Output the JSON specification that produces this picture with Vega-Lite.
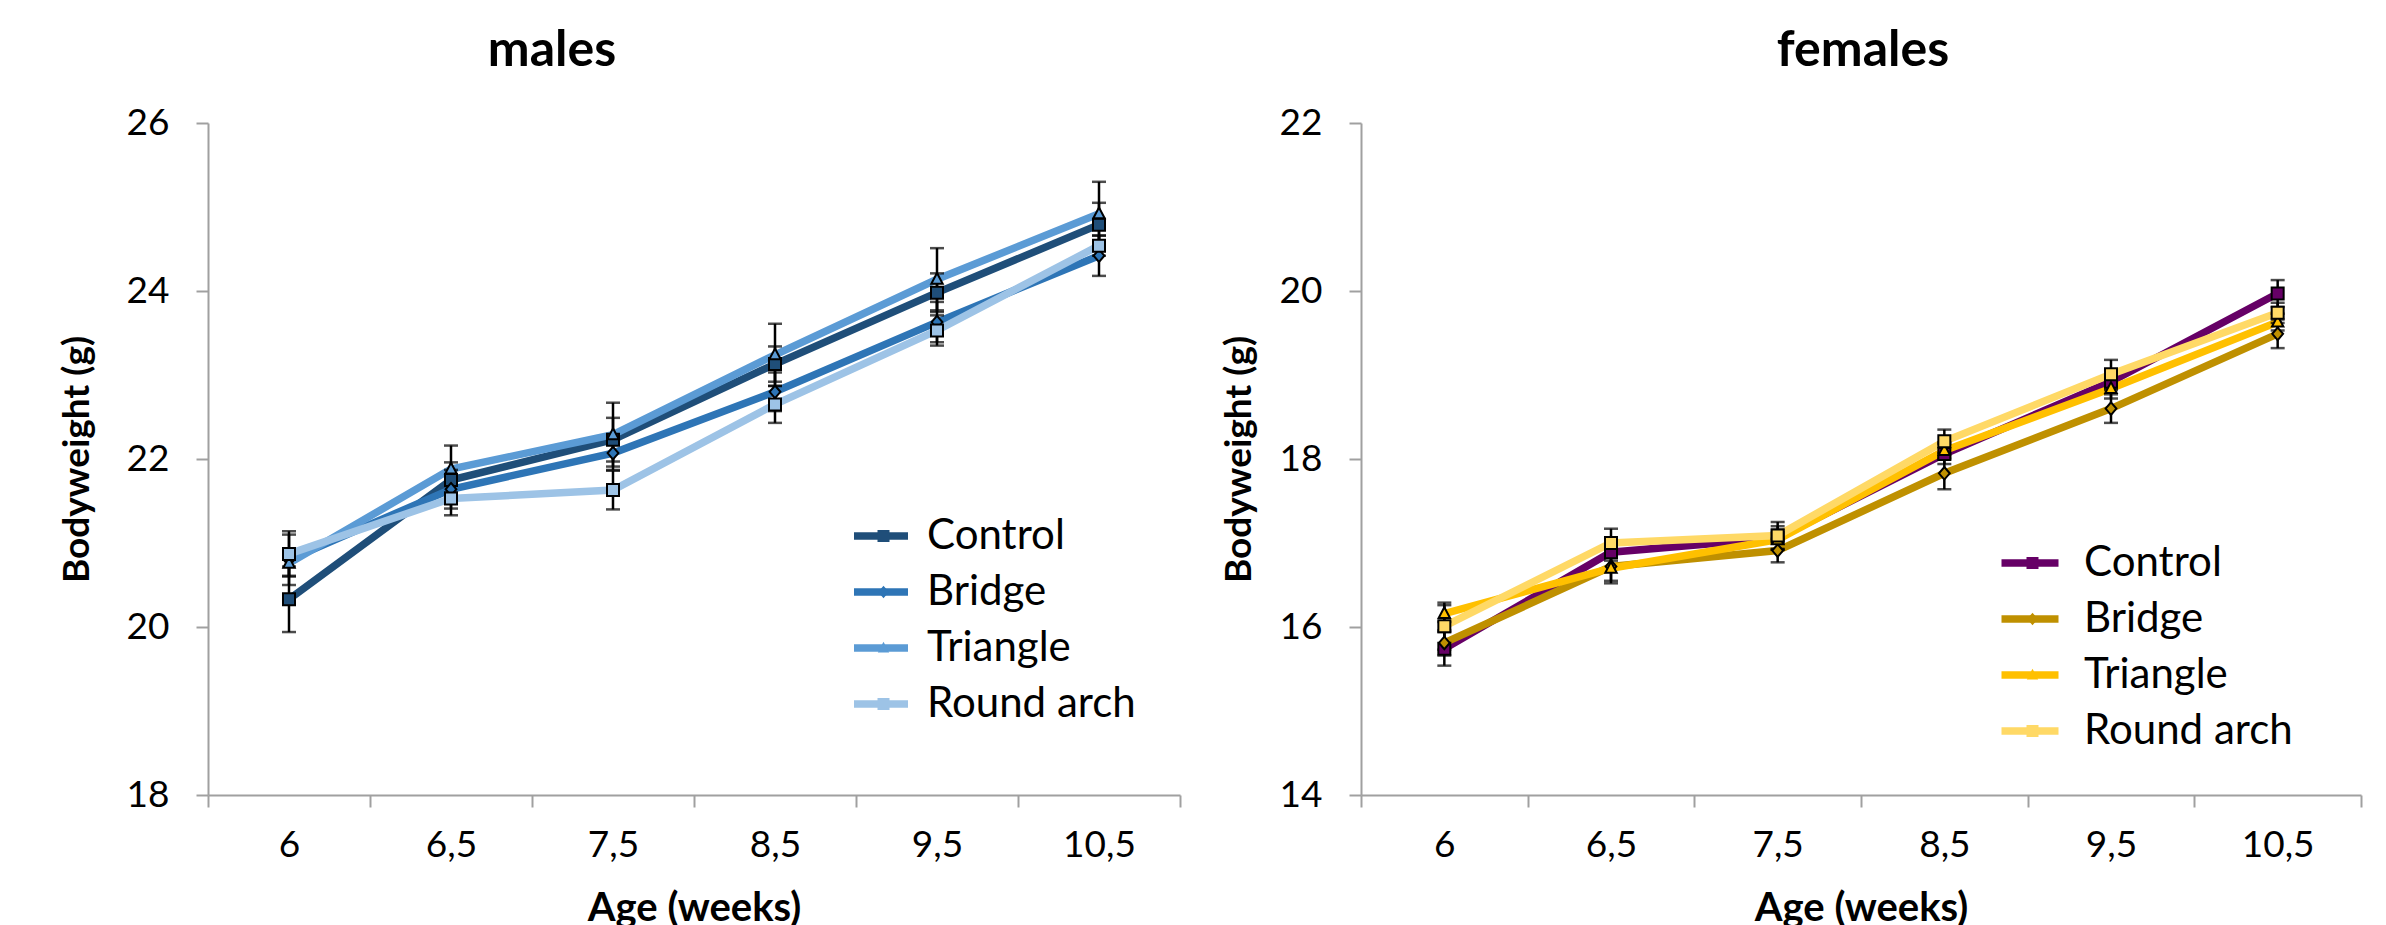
{
  "$schema": "https://vega.github.io/schema/vega-lite/v6.json",
  "background": "white",
  "padding": {"left": 58, "top": 26, "right": 5, "bottom": 5},
  "config": {
    "font": "Lato",
    "view": {"stroke": null},
    "axis": {
      "domainColor": "#a0a0a0", "domainWidth": 2, "tickColor": "#a0a0a0", "tickWidth": 2, "tickSize": 12,
      "labelFont": "Lato", "labelFontSize": 37, "labelColor": "black",
      "titleFont": "Lato", "titleFontSize": 37, "titleFontWeight": "bold", "titleColor": "black", "grid": false
    },
    "legend": {"labelFont": "Lato", "labelColor": "black", "padding": 0, "title": null, "labelLimit": 400}
  },
  "datasets": {
    "males": [
      {"age": "6", "series": "Control", "weight": 20.33, "se": 0.39},
      {"age": "6", "series": "Bridge", "weight": 20.80, "se": 0.30},
      {"age": "6", "series": "Triangle", "weight": 20.76, "se": 0.15},
      {"age": "6", "series": "Round arch", "weight": 20.87, "se": 0.27},
      {"age": "6,5", "series": "Control", "weight": 21.75, "se": 0.21},
      {"age": "6,5", "series": "Bridge", "weight": 21.64, "se": 0.23},
      {"age": "6,5", "series": "Triangle", "weight": 21.88, "se": 0.28},
      {"age": "6,5", "series": "Round arch", "weight": 21.53, "se": 0.20},
      {"age": "7,5", "series": "Control", "weight": 22.23, "se": 0.26},
      {"age": "7,5", "series": "Bridge", "weight": 22.07, "se": 0.20},
      {"age": "7,5", "series": "Triangle", "weight": 22.29, "se": 0.38},
      {"age": "7,5", "series": "Round arch", "weight": 21.63, "se": 0.23},
      {"age": "8,5", "series": "Control", "weight": 23.13, "se": 0.21},
      {"age": "8,5", "series": "Bridge", "weight": 22.80, "se": 0.23},
      {"age": "8,5", "series": "Triangle", "weight": 23.24, "se": 0.37},
      {"age": "8,5", "series": "Round arch", "weight": 22.65, "se": 0.22},
      {"age": "9,5", "series": "Control", "weight": 23.98, "se": 0.23},
      {"age": "9,5", "series": "Bridge", "weight": 23.63, "se": 0.24},
      {"age": "9,5", "series": "Triangle", "weight": 24.14, "se": 0.37},
      {"age": "9,5", "series": "Round arch", "weight": 23.53, "se": 0.18},
      {"age": "10,5", "series": "Control", "weight": 24.79, "se": 0.26},
      {"age": "10,5", "series": "Bridge", "weight": 24.42, "se": 0.24},
      {"age": "10,5", "series": "Triangle", "weight": 24.92, "se": 0.38},
      {"age": "10,5", "series": "Round arch", "weight": 24.54, "se": 0.12}
    ],
    "females": [
      {"age": "6", "series": "Control", "weight": 15.74, "se": 0.20},
      {"age": "6", "series": "Bridge", "weight": 15.81, "se": 0.15},
      {"age": "6", "series": "Triangle", "weight": 16.16, "se": 0.10},
      {"age": "6", "series": "Round arch", "weight": 16.01, "se": 0.28},
      {"age": "6,5", "series": "Control", "weight": 16.89, "se": 0.10},
      {"age": "6,5", "series": "Bridge", "weight": 16.72, "se": 0.20},
      {"age": "6,5", "series": "Triangle", "weight": 16.70, "se": 0.15},
      {"age": "6,5", "series": "Round arch", "weight": 17.00, "se": 0.17},
      {"age": "7,5", "series": "Control", "weight": 17.06, "se": 0.14},
      {"age": "7,5", "series": "Bridge", "weight": 16.91, "se": 0.14},
      {"age": "7,5", "series": "Triangle", "weight": 17.04, "se": 0.12},
      {"age": "7,5", "series": "Round arch", "weight": 17.09, "se": 0.16},
      {"age": "8,5", "series": "Control", "weight": 18.06, "se": 0.12},
      {"age": "8,5", "series": "Bridge", "weight": 17.83, "se": 0.19},
      {"age": "8,5", "series": "Triangle", "weight": 18.10, "se": 0.10},
      {"age": "8,5", "series": "Round arch", "weight": 18.21, "se": 0.14},
      {"age": "9,5", "series": "Control", "weight": 18.92, "se": 0.10},
      {"age": "9,5", "series": "Bridge", "weight": 18.60, "se": 0.17},
      {"age": "9,5", "series": "Triangle", "weight": 18.84, "se": 0.12},
      {"age": "9,5", "series": "Round arch", "weight": 19.01, "se": 0.17},
      {"age": "10,5", "series": "Control", "weight": 19.97, "se": 0.16},
      {"age": "10,5", "series": "Bridge", "weight": 19.49, "se": 0.17},
      {"age": "10,5", "series": "Triangle", "weight": 19.63, "se": 0.10},
      {"age": "10,5", "series": "Round arch", "weight": 19.74, "se": 0.12}
    ]
  },
  "bounds": "flush",
  "spacing": 181,
  "resolve": {
    "scale": {"x": "independent", "y": "independent", "color": "independent", "fill": "independent", "shape": "independent"},
    "legend": {"color": "independent", "fill": "independent", "shape": "independent"}
  },
  "hconcat": [
    {
      "width": 972,
      "height": 672,
      "data": {"name": "males"},
      "title": {"text": "males", "font": "Lato", "fontSize": 50, "fontWeight": "bold", "color": "black", "anchor": "middle", "frame": "group", "dx": -142, "baseline": "alphabetic", "offset": -12},
      "encoding": {
        "x": {"field": "age", "type": "nominal", "sort": ["6", "6,5", "7,5", "8,5", "9,5", "10,5"],
              "scale": {"type": "band", "paddingInner": 0, "paddingOuter": 0},
              "axis": {"title": "Age (weeks)", "titleFontSize": 40, "labelAngle": 0, "tickBand": "extent", "labelPadding": 20, "titlePadding": 25}},
        "y": {"field": "weight", "type": "quantitative",
              "scale": {"domain": [18, 26], "nice": false, "zero": false},
              "axis": {"title": "Bodyweight (g)", "values": [18, 20, 22, 24, 26], "labelPadding": 27, "titlePadding": 30}}
      },
      "layer": [
        {
          "mark": {"type": "line", "strokeWidth": 7.5},
          "encoding": {
            "color": {"field": "series", "type": "nominal", "sort": ["Control", "Bridge", "Triangle", "Round arch"],
                      "scale": {"range": ["#1f4e79", "#2e75b6", "#5b9bd5", "#9dc3e6"]},
                      "legend": {"orient": "none", "legendX": 652, "legendY": 392, "symbolType": "M-1.8,0H1.8", "symbolSize": 900, "symbolStrokeWidth": 7.5, "labelFontSize": 42, "rowPadding": 14, "labelOffset": 25, "zindex": 0}}
          }
        },
        {
          "mark": {"type": "errorbar", "color": "black", "thickness": 2.5, "ticks": {"size": 14, "thickness": 2.5}},
          "encoding": {"yError": {"field": "se"}}
        },
        {
          "mark": {"type": "point", "filled": true, "stroke": "black", "strokeWidth": 2, "size": 900, "opacity": 1},
          "encoding": {
            "fill": {"field": "series", "type": "nominal",
                     "scale": {"domain": ["Control", "Bridge", "Triangle", "Round arch"], "range": ["#1f4e79", "#2e75b6", "#5b9bd5", "#9dc3e6"]},
                     "legend": {"orient": "none", "legendX": 654.5, "legendY": 392, "symbolSize": 900, "symbolStrokeColor": "black", "symbolStrokeWidth": 2, "labelFontSize": 42, "labelOpacity": 0, "rowPadding": 14, "zindex": 1}},
            "shape": {"field": "series", "type": "nominal",
                      "scale": {"domain": ["Control", "Bridge", "Triangle", "Round arch"], "range": ["M-0.4,-0.4H0.4V0.4H-0.4Z", "M0,-0.42L0.36,0L0,0.42L-0.36,0Z", "M0,-0.42L0.38,0.3H-0.38Z", "M-0.4,-0.4H0.4V0.4H-0.4Z"]},
                      "legend": {"orient": "none", "legendX": 654.5, "legendY": 392, "symbolSize": 900, "symbolStrokeColor": "black", "symbolStrokeWidth": 2, "labelFontSize": 42, "labelOpacity": 0, "rowPadding": 14, "zindex": 1}}
          }
        }
      ]
    },
    {
      "width": 1000,
      "height": 672,
      "data": {"name": "females"},
      "title": {"text": "females", "font": "Lato", "fontSize": 50, "fontWeight": "bold", "color": "black", "anchor": "middle", "frame": "group", "dx": 2, "baseline": "alphabetic", "offset": -12},
      "encoding": {
        "x": {"field": "age", "type": "nominal", "sort": ["6", "6,5", "7,5", "8,5", "9,5", "10,5"],
              "scale": {"type": "band", "paddingInner": 0, "paddingOuter": 0},
              "axis": {"title": "Age (weeks)", "titleFontSize": 40, "labelAngle": 0, "tickBand": "extent", "labelPadding": 20, "titlePadding": 25}},
        "y": {"field": "weight", "type": "quantitative",
              "scale": {"domain": [14, 22], "nice": false, "zero": false},
              "axis": {"title": "Bodyweight (g)", "values": [14, 16, 18, 20, 22], "labelPadding": 27, "titlePadding": 21}}
      },
      "layer": [
        {
          "mark": {"type": "line", "strokeWidth": 7.5},
          "encoding": {
            "color": {"field": "series", "type": "nominal", "sort": ["Control", "Bridge", "Triangle", "Round arch"],
                      "scale": {"range": ["#660066", "#bf9000", "#ffc000", "#ffd966"]},
                      "legend": {"orient": "none", "legendX": 648, "legendY": 419, "symbolType": "M-1.9,0H1.9", "symbolSize": 900, "symbolStrokeWidth": 7.5, "labelFontSize": 42, "rowPadding": 14, "labelOffset": 33, "zindex": 0}}
          }
        },
        {
          "mark": {"type": "errorbar", "color": "black", "thickness": 2.5, "ticks": {"size": 14, "thickness": 2.5}},
          "encoding": {"yError": {"field": "se"}}
        },
        {
          "mark": {"type": "point", "filled": true, "stroke": "black", "strokeWidth": 2, "size": 900, "opacity": 1},
          "encoding": {
            "fill": {"field": "series", "type": "nominal",
                     "scale": {"domain": ["Control", "Bridge", "Triangle", "Round arch"], "range": ["#660066", "#bf9000", "#ffc000", "#ffd966"]},
                     "legend": {"orient": "none", "legendX": 650.5, "legendY": 419, "symbolSize": 900, "symbolStrokeColor": "black", "symbolStrokeWidth": 2, "labelFontSize": 42, "labelOpacity": 0, "rowPadding": 14, "zindex": 1}},
            "shape": {"field": "series", "type": "nominal",
                      "scale": {"domain": ["Control", "Bridge", "Triangle", "Round arch"], "range": ["M-0.4,-0.4H0.4V0.4H-0.4Z", "M0,-0.42L0.36,0L0,0.42L-0.36,0Z", "M0,-0.42L0.38,0.3H-0.38Z", "M-0.4,-0.4H0.4V0.4H-0.4Z"]},
                      "legend": {"orient": "none", "legendX": 650.5, "legendY": 419, "symbolSize": 900, "symbolStrokeColor": "black", "symbolStrokeWidth": 2, "labelFontSize": 42, "labelOpacity": 0, "rowPadding": 14, "zindex": 1}}
          }
        }
      ]
    }
  ]
}
